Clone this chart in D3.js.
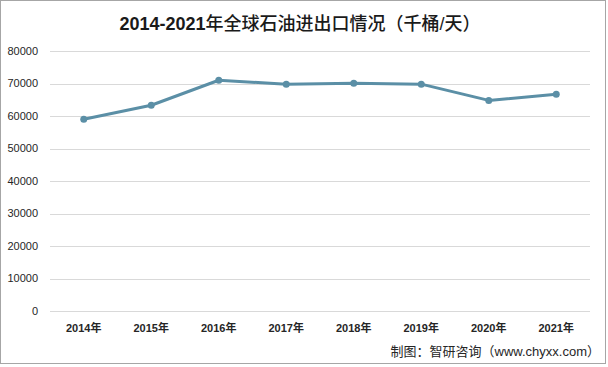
<!DOCTYPE html>
<html><head><meta charset="utf-8">
<script src="https://cdn.jsdelivr.net/npm/d3@7"></script>
<style>body{margin:0;background:#fff;}svg{display:block;}</style>
</head><body>
<svg id="chart" width="608" height="367"></svg>
<script>
const years = ["2014年","2015年","2016年","2017年","2018年","2019年","2020年","2021年"];
const values = [59000, 63300, 71000, 69800, 70100, 69800, 64800, 66700];
const yTicks = [0,10000,20000,30000,40000,50000,60000,70000,80000];
const titleNum = "2014-2021";
const titleText = "年全球石油进出口情况（千桶/天）";
const source = "制图：智研咨询（www.chyxx.com）";

const svg = d3.select("#chart");
svg.append("rect").attr("x",0.5).attr("y",0.5).attr("width",605).attr("height",363)
  .attr("fill","#fff").attr("stroke","#a6a6a6").attr("stroke-width",1);

const x = d3.scaleBand().domain(years).range([50,590]);
const y = d3.scaleLinear().domain([0,80000]).range([311,51]);

const font = "'Liberation Sans', Arial, 'Noto Sans CJK SC', sans-serif";

svg.append("g").selectAll("line").data(yTicks).join("line")
  .attr("x1",50).attr("x2",590)
  .attr("y1",d=>Math.round(y(d))+0.5).attr("y2",d=>Math.round(y(d))+0.5)
  .attr("stroke","#d9d9d9").attr("stroke-width",1);

svg.append("g").selectAll("text").data(yTicks).join("text")
  .attr("x",38).attr("y",d=>y(d)).attr("dy","0.35em")
  .attr("text-anchor","end").attr("font-family",font).attr("font-size",11)
  .attr("fill","#262626").text(d=>d);

svg.append("g").selectAll("text").data(years).join("text")
  .attr("x",d=>x(d)+x.bandwidth()/2).attr("y",328).attr("dy","0.35em")
  .attr("text-anchor","middle").attr("font-family",font).attr("font-size",11)
  .attr("font-weight","bold").attr("fill","#262626").text(d=>d);

const line = d3.line().x((d,i)=>x(years[i])+x.bandwidth()/2).y(d=>y(d));
svg.append("path").datum(values).attr("d",line).attr("fill","none")
  .attr("stroke","#5b8fa6").attr("stroke-width",3).attr("stroke-linejoin","round");
svg.append("g").selectAll("circle").data(values).join("circle")
  .attr("cx",(d,i)=>x(years[i])+x.bandwidth()/2).attr("cy",d=>y(d)).attr("r",3.5)
  .attr("fill","#5b8fa6");

const t = svg.append("text").attr("x",300).attr("y",24).attr("dy","0.35em")
  .attr("text-anchor","middle").attr("font-family",font).attr("font-size",18)
  .attr("fill","#1a1a1a");
t.append("tspan").attr("font-weight","bold").text(titleNum);
t.append("tspan").attr("font-weight","500").text(titleText);

svg.append("text").attr("x",600).attr("y",351).attr("dy","0.35em")
  .attr("text-anchor","end").attr("font-family",font).attr("font-size",13)
  .attr("fill","#262626").text(source);
</script>
</body></html>
